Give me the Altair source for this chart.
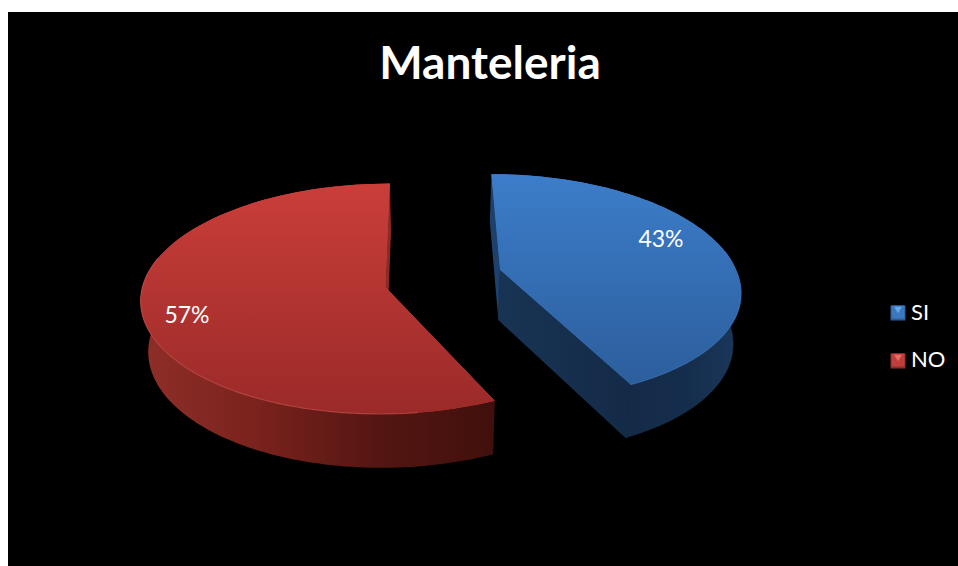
import math
import altair as alt
import pandas as pd

# Survey shares and legend order
answers = ["SI", "NO"]
shares = [43, 57]
face_top = {"SI": "#3c7dca", "NO": "#ca3e3a"}
face_bottom = {"SI": "#2c5e9c", "NO": "#9a2a28"}
legend_colors = ["#3a78bf", "#bf3f3b"]
chart_title = "Manteleria"

# Perspective set-up of the tilted pie (pixel units of the full page)
VX, Y0, DEPTH = 433.0, 277.0, 112.0
PERSP = {"SI": 0.15, "NO": 0.10}
NEAR_SHEAR = {"SI": 0.07, "NO": 0.0}
APEX = {"SI": (67.7, -0.065), "NO": (-47.0, 0.09)}
RADIUS = {"SI": 238.0, "NO": 241.0}
WALL_SCALE, WALL_DROP, WALL_STRETCH, WALL_REF = 0.974, 50.0, 0.026, 268.0
LABEL_AT = {"SI": (661, 240), "NO": (187, 316)}
LEGEND_X, LEGEND_Y = 878, 290
SWATCH_AT = [(898, 313), (898, 361)]


def top_point(answer, angle):
    """Project a rim point (clockwise degrees from the far side) onto the top face."""
    ax, ay = APEX[answer]
    u, v = math.sin(math.radians(angle)), -math.cos(math.radians(angle))
    return plane_point(answer, ax + RADIUS[answer] * u, ay + v, v)


def plane_point(answer, px, py, dv):
    s = 1.0 / (1.0 - PERSP[answer] * py)
    shear = NEAR_SHEAR[answer] * APEX[answer][0] * max(dv, 0.0)
    return [VX + px * s + shear, Y0 + DEPTH * py * s]


def apex_point(answer):
    ax, ay = APEX[answer]
    return plane_point(answer, ax, ay, 0.0)


def lower(p):
    return [VX + (p[0] - VX) * WALL_SCALE, p[1] + WALL_DROP + WALL_STRETCH * (p[1] - WALL_REF)]


def sweep(a, b, n=90):
    return [a + (b - a) * i / n for i in range(n + 1)]


def polygon(points, **props):
    ring = [list(p) for p in points] + [list(points[0])]
    return {"type": "Feature", "properties": props, "geometry": {"type": "Polygon", "coordinates": [ring]}}


def polyline(points):
    return {"type": "Feature", "properties": {}, "geometry": {"type": "LineString", "coordinates": [list(p) for p in points]}}


PROJECTION = dict(type="identity", scale=1, translate=[-8, -12])


def gradient(stops, horizontal=False):
    end = {"x1": 0, "x2": 1, "y1": 0, "y2": 0} if horizontal else {"x1": 0, "x2": 0, "y1": 0, "y2": 1}
    offs = [i / (len(stops) - 1) for i in range(len(stops))]
    return alt.Gradient(gradient="linear", stops=[alt.GradientStop(offset=o, color=c) for o, c in zip(offs, stops)], **end)


def shape(feature, fill, seal=0):
    return alt.Chart(alt.Data(values=[feature])).mark_geoshape(
        fill=fill, stroke=fill if seal else None, strokeWidth=seal
    ).project(**PROJECTION)


# Slice angles follow directly from the shares; SI starts at the far side
spans = {}
start = 0.0
for name, value in zip(answers, shares):
    spans[name] = (start, start + value * 3.6)
    start += value * 3.6

layers = []

# Side walls of both slices
si_start, si_end = spans["SI"]
no_start, no_end = spans["NO"]

si_arc = [top_point("SI", a) for a in sweep(80, si_end)]
no_arc = [top_point("NO", a) for a in sweep(no_start, 285)]
si_apex, no_apex = apex_point("SI"), apex_point("NO")
si_far, no_far = top_point("SI", si_start), top_point("NO", no_end)

layers.append(shape(polygon([si_far, si_apex, lower(si_apex), lower(si_far)]), "#1d416c"))
layers.append(shape(polygon([no_far, no_apex, lower(no_apex), lower(no_far)]), "#8a2b27"))
layers.append(shape(polygon(si_arc + [lower(p) for p in reversed(si_arc)]),
                    gradient(["#142a47", "#152d4c", "#1a375a"], horizontal=True), seal=0.6))
layers.append(shape(polygon([si_apex, si_arc[-1], lower(si_arc[-1]), lower(si_apex)]),
                    gradient(["#183454", "#142a47"], horizontal=True), seal=0.6))
layers.append(shape(polygon(no_arc + [lower(p) for p in reversed(no_arc)]),
                    gradient(["#8f2e28", "#7a221d", "#541612", "#41100c"], horizontal=True)))

# Top faces: flat colour carries the legend, the gradient sits above it
faces = {
    "SI": [si_apex] + [top_point("SI", a) for a in sweep(si_start, si_end)],
    "NO": [no_apex] + [top_point("NO", a) for a in sweep(no_start, no_end)],
}
flat = [polygon(faces[n], answer=n) for n in answers]
layers.append(
    alt.Chart(alt.Data(values=flat)).mark_geoshape(stroke=None, strokeWidth=0).encode(
        color=alt.Color(
            "properties.answer:N",
            scale=alt.Scale(domain=answers, range=legend_colors),
            legend=alt.Legend(
                title=None, orient="none", legendX=LEGEND_X, legendY=LEGEND_Y,
                symbolType="square", symbolSize=225, symbolStrokeWidth=0, symbolOpacity=0,
                labelFont="Lato", labelFontSize=22, labelColor="#ffffff",
                labelLimit=80, rowPadding=25, labelOffset=3,
            ),
        )
    ).project(**PROJECTION)
)
for n in answers:
    layers.append(shape(polygon(faces[n]), gradient([face_top[n], face_bottom[n]])))

# Thin bevel along the near rim of each face
layers.append(
    alt.Chart(alt.Data(values=[polyline(no_arc[12:])])).mark_geoshape(
        filled=False, stroke="#c8544f", strokeWidth=1.2, strokeOpacity=0.6, fill=None
    ).project(**PROJECTION)
)
layers.append(
    alt.Chart(alt.Data(values=[polyline(si_arc)])).mark_geoshape(
        filled=False, stroke="#3a74b8", strokeWidth=1.1, strokeOpacity=0.6, fill=None
    ).project(**PROJECTION)
)

# Percentage labels
labels = pd.DataFrame({
    "label": [f"{v}%" for v in shares],
    "lon": [LABEL_AT[n][0] for n in answers],
    "lat": [LABEL_AT[n][1] for n in answers],
})
layers.append(
    alt.Chart(labels).mark_text(font="Lato", fontSize=23, color="#ffffff", align="center", baseline="middle").encode(
        longitude="lon:Q", latitude="lat:Q", text="label:N"
    ).project(**PROJECTION)
)

# Raised legend swatches: shaded base, flat body and a lit upper facet
swatch_parts = [
    ("square", 225, 0, ["#2b5b96", "#8f2c2a"]),
    ("square", 170, -1, legend_colors),
    ("triangle-down", 60, -3, ["#66a8e6", "#e66c68"]),
]
for glyph, area, lift, tones in swatch_parts:
    part = pd.DataFrame({
        "lon": [p[0] for p in SWATCH_AT],
        "lat": [p[1] + lift for p in SWATCH_AT],
        "tone": tones,
    })
    layers.append(
        alt.Chart(part).mark_point(shape=glyph, filled=True, size=area, opacity=1, strokeWidth=0).encode(
            longitude="lon:Q", latitude="lat:Q", color=alt.Color("tone:N", scale=None)
        ).project(**PROJECTION)
    )

chart = alt.layer(*layers).properties(
    width=950,
    height=554,
    padding={"left": 8, "top": 12, "right": 0, "bottom": 0},
    autosize=alt.AutoSizeParams(type="none"),
    background="#ffffff",
    view=alt.ViewBackground(fill="#000000", stroke=None),
    title=alt.TitleParams(
        chart_title, font="Lato", fontSize=46, fontWeight="bold", color="#ffffff",
        anchor="start", frame="group", align="center", baseline="alphabetic", dx=482, dy=113, offset=0,
    ),
).configure_view(fill="#000000", stroke=None)

chart.save("out.html", embed_options={"renderer": "svg", "actions": False})
